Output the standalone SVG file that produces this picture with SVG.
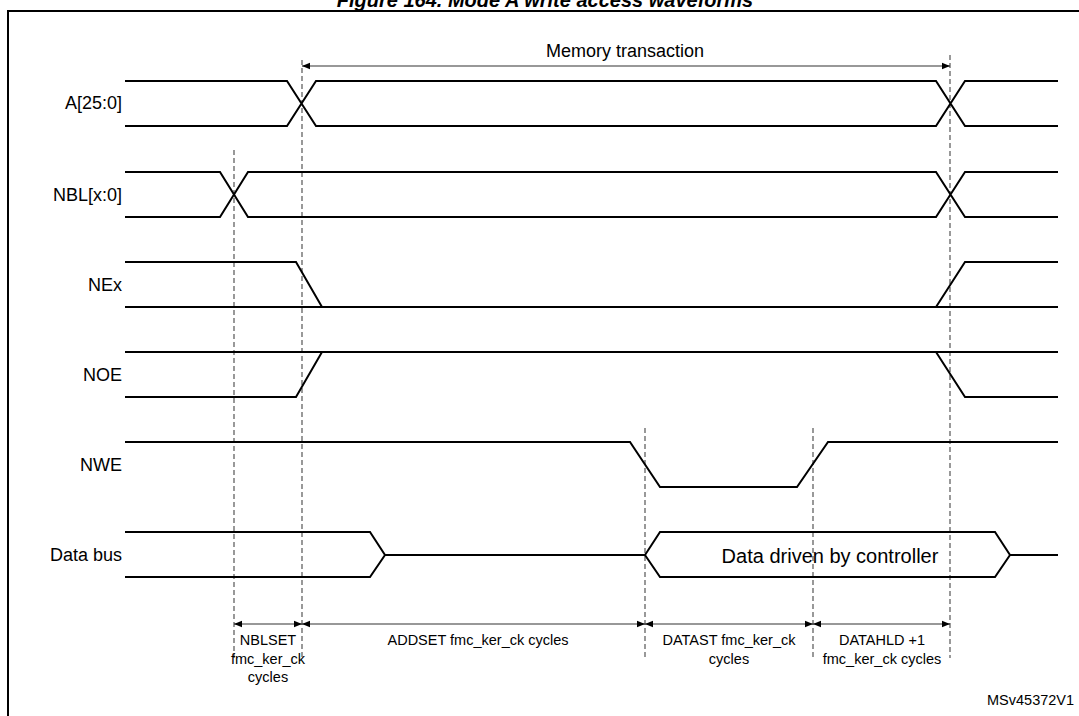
<svg xmlns="http://www.w3.org/2000/svg" width="1079" height="716" viewBox="0 0 1079 716">
<style>
text{font-family:"Liberation Sans",Arial,sans-serif;fill:#000}
.lbl{font-size:18px;text-anchor:end}
.s{fill:none;stroke:#000;stroke-width:2}
.d{fill:none;stroke:#555;stroke-width:1.2;stroke-dasharray:5,3}
.a{fill:none;stroke:#333;stroke-width:1.2;marker-start:url(#m);marker-end:url(#m)}
.t{font-size:14.5px;text-anchor:middle}
</style>
<defs><marker id="m" viewBox="0 0 10 10" refX="10" refY="5" markerWidth="10" markerHeight="8" orient="auto-start-reverse" markerUnits="userSpaceOnUse"><path d="M0,1 L10,5 L0,9 z" fill="#000"/></marker></defs>
<rect width="1079" height="716" fill="#fff"/>
<text x="545" y="7" font-size="20" font-weight="bold" font-style="italic" text-anchor="middle">Figure 164. Mode A write access waveforms</text>
<rect x="8" y="11" width="1080" height="720" fill="none" stroke="#000" stroke-width="2"/>
<g id="guides">
<line class="d" x1="302" y1="60" x2="302" y2="658"/>
<line class="d" x1="950" y1="55" x2="950" y2="658"/>
<line class="d" x1="234" y1="150" x2="234" y2="658"/>
<line class="d" x1="645" y1="428" x2="645" y2="658"/>
<line class="d" x1="813" y1="428" x2="813" y2="658"/>
</g>
<g id="sig-a"><text class="lbl" x="122" y="109">A[25:0]</text>
<path class="s" d="M125,81H287L316,126H936L965,81H1058M125,126H287L316,81H936L965,126H1058"/></g>
<g id="sig-nbl"><text class="lbl" x="122" y="201">NBL[x:0]</text>
<path class="s" d="M125,172H220L248,217H936L965,172H1058M125,217H220L248,172H936L965,217H1058"/></g>
<g id="sig-nex"><text class="lbl" x="122" y="291">NEx</text>
<path class="s" d="M125,262H296L322,307M125,307H1058M936,307L965,262H1058"/></g>
<g id="sig-noe"><text class="lbl" x="122" y="381">NOE</text>
<path class="s" d="M125,352H1058M125,397H296L322,352M936,352L965,397H1058"/></g>
<g id="sig-nwe"><text class="lbl" x="122" y="471">NWE</text>
<path class="s" d="M125,442H630L660,487H797L828,442H1058"/></g>
<g id="sig-data"><text class="lbl" x="122" y="561">Data bus</text>
<path class="s" d="M125,532H370L385,555L370,577H125M385,555H645M645,555L660,532H995L1010,555L995,577H660ZM1010,555H1058"/>
<text x="830" y="563" font-size="20" text-anchor="middle">Data driven by controller</text></g>
<g id="connectors">
<line class="a" x1="302" y1="66" x2="950" y2="66"/>
<line class="a" x1="234" y1="624" x2="302" y2="624"/>
<line class="a" x1="302" y1="624" x2="645" y2="624"/>
<line class="a" x1="645" y1="624" x2="813" y2="624"/>
<line class="a" x1="813" y1="624" x2="950" y2="624"/>
</g>
<text x="625" y="57" font-size="18" text-anchor="middle">Memory transaction</text>
<text class="t" x="268" y="645">NBLSET</text><text class="t" x="268" y="664">fmc_ker_ck</text><text class="t" x="268" y="682">cycles</text>
<text class="t" x="478" y="645">ADDSET fmc_ker_ck cycles</text>
<text class="t" x="729" y="645">DATAST fmc_ker_ck</text><text class="t" x="729" y="664">cycles</text>
<text class="t" x="882" y="645">DATAHLD +1</text><text class="t" x="882" y="664">fmc_ker_ck cycles</text>
<text x="987" y="705" font-size="14.5">MSv45372V1</text>
</svg>
